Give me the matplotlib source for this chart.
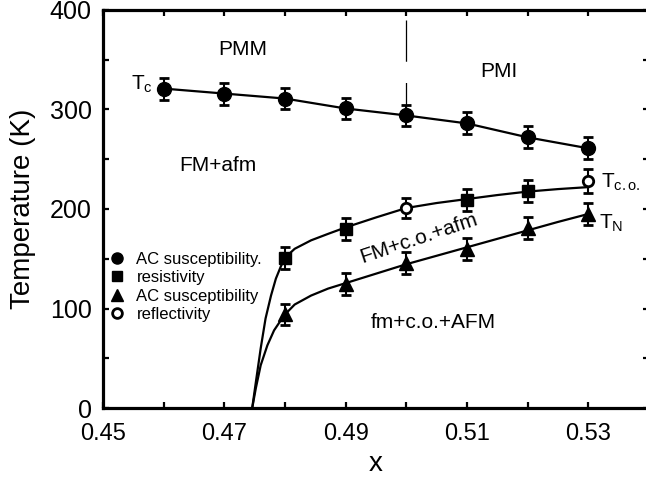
import matplotlib
matplotlib.use("Agg")
import matplotlib.pyplot as plt
from matplotlib.lines import Line2D
from matplotlib.ticker import MultipleLocator, FixedLocator

plt.rcParams['font.family'] = ['Liberation Sans', 'DejaVu Sans']
plt.rcParams['mathtext.fontset'] = 'custom'
plt.rcParams['mathtext.rm'] = 'Liberation Sans'
plt.rcParams['mathtext.it'] = 'Liberation Sans'
plt.rcParams['mathtext.default'] = 'regular'

# Tc from AC susceptibility (filled circles)
tc_x = [0.46, 0.47, 0.48, 0.49, 0.50, 0.51, 0.52, 0.53]
tc_T = [321, 316, 311, 301, 294, 286, 272, 261]
tc_err = [11, 11, 11, 11, 11, 11, 11, 11]

# Tco from resistivity (filled squares)
res_x = [0.48, 0.49, 0.51, 0.52]
res_T = [151, 180, 209, 218]
res_err = [11, 11, 11, 11]

# Tco from reflectivity (open circles)
refl_x = [0.50, 0.53]
refl_T = [201, 228]
refl_err = [10, 12]

# TN from AC susceptibility (filled triangles)
tn_x = [0.48, 0.49, 0.50, 0.51, 0.52, 0.53]
tn_T = [94, 125, 146, 160, 181, 195]
tn_err = [11, 11, 11, 11, 11, 11]

# guide-to-the-eye curves
tco_line_x = [0.4746, 0.4752, 0.4760, 0.4768, 0.4777, 0.4785, 0.4793, 0.4800,
              0.4816, 0.4843, 0.4871, 0.4900, 0.4950, 0.5000, 0.5050, 0.5100,
              0.5150, 0.5200, 0.5250, 0.5300]
tco_line_T = [0, 26, 60, 90, 113, 130, 142, 151, 160, 168.5, 175, 181.5, 191.5,
              201, 206, 210, 214, 217.5, 220, 222]
tn_line_x = [0.4746, 0.4752, 0.4760, 0.4771, 0.4782, 0.4793, 0.4800, 0.4816,
             0.4843, 0.4871, 0.4900, 0.4950, 0.5000, 0.5050, 0.5100, 0.5150,
             0.5200, 0.5250, 0.5300]
tn_line_T = [0, 20, 43, 63, 78, 88, 94, 104, 113, 120, 125.5, 135, 144.5, 153,
             161.5, 170, 178.5, 187, 195]

# PMM / PMI boundary
div_x = [0.50, 0.50]
div_T = [390, 296]

x_ticklabels = ['0.45', '0.47', '0.49', '0.51', '0.53']

fig = plt.figure(figsize=(6.46, 4.87), dpi=100)
ax = fig.add_axes([0.1594, 0.1622, 0.8452, 0.8173])

ax.plot(tc_x, tc_T, color='black', lw=1.6)
ax.plot(tco_line_x, tco_line_T, color='black', lw=1.6)
ax.plot(tn_line_x, tn_line_T, color='black', lw=1.6)
ax.plot(div_x, div_T, color='black', lw=0.9, dashes=(33, 17))

eb = dict(color='black', ecolor='black', elinewidth=1.5, capsize=3.6,
          capthick=2, ls='none')
ax.errorbar(tc_x, tc_T, yerr=tc_err, fmt='o', ms=10, **eb)
ax.errorbar(res_x, res_T, yerr=res_err, fmt='s', ms=9, **eb)
ax.errorbar(tn_x, tn_T, yerr=tn_err, fmt='^', ms=9.5, **eb)
ax.errorbar(refl_x, refl_T, yerr=refl_err, fmt='o', ms=7.5, mfc='white',
            mew=2, **eb)

ax.set_xlim(0.45, 0.54)
ax.set_ylim(0, 400)

ax.xaxis.set_major_locator(FixedLocator([0.45, 0.47, 0.49, 0.51, 0.53]))
ax.set_xticklabels(x_ticklabels)
ax.xaxis.set_minor_locator(FixedLocator([0.46, 0.48, 0.50, 0.52]))
ax.yaxis.set_major_locator(MultipleLocator(100))
ax.yaxis.set_minor_locator(MultipleLocator(50))
ax.tick_params(which='both', direction='in', top=True, right=True,
               length=4.5, width=1.6)
ax.tick_params(axis='x', labelsize=17, pad=11)
ax.tick_params(axis='y', labelsize=18, pad=8)
for s in ax.spines.values():
    s.set_linewidth(2.3)

ax.set_xlabel('x', fontsize=20, labelpad=4)
ax.set_ylabel('Temperature (K)', fontsize=20, labelpad=10)

ax.text(0.4730, 360, 'PMM', fontsize=15, ha='center', va='center')
ax.text(0.5153, 338, 'PMI', fontsize=15, ha='center', va='center')
ax.text(0.4690, 244, 'FM+afm', fontsize=15, ha='center', va='center')
ax.text(0.5021, 171, 'FM+c.o.+afm', fontsize=15, ha='center', va='center',
        rotation=18.5)
ax.text(0.5044, 86, 'fm+c.o.+AFM', fontsize=15, ha='center', va='center')
ax.text(0.4547, 325, r'T$_{c}$', fontsize=15, ha='left', va='center')
ax.text(0.5321, 227, r'T$_{c.o.}$', fontsize=15, ha='left', va='center')
ax.text(0.5317, 186, r'T$_{N}$', fontsize=15, ha='left', va='center')

handles = [
    Line2D([], [], ls='none', marker='o', color='black', ms=8),
    Line2D([], [], ls='none', marker='s', color='black', ms=7.5),
    Line2D([], [], ls='none', marker='^', color='black', ms=8),
    Line2D([], [], ls='none', marker='o', color='black', mfc='white', ms=7, mew=2),
]
labels = ['AC susceptibility.', 'resistivity', 'AC susceptibility', 'reflectivity']
ax.legend(handles, labels, loc='upper left', bbox_to_anchor=(0.011, 0.392),
          frameon=False, fontsize=12, handlelength=1.0, handletextpad=0.65,
          labelspacing=0.2, borderpad=0, borderaxespad=0)

fig.savefig('out.png', dpi=100)
